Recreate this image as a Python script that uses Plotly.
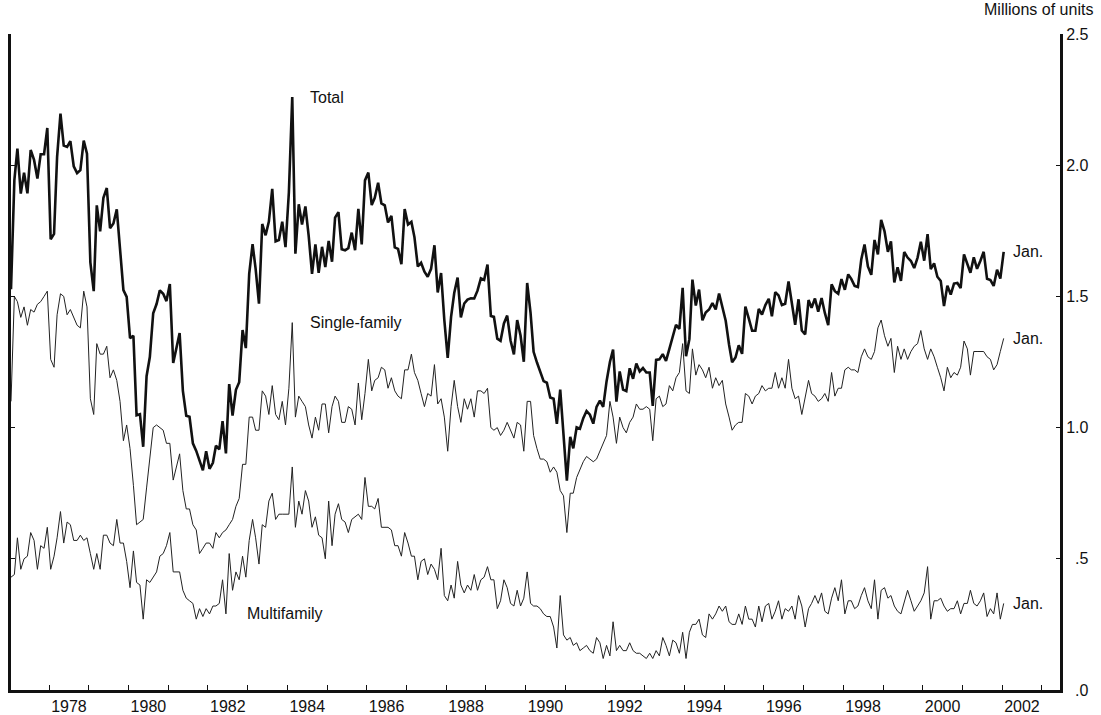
import pandas as pd
import plotly.graph_objects as go

# Monthly, Jan 1977 - Jan 2002, millions of units (SAAR)
total = [
    1.527, 1.943, 2.063, 1.892, 1.971, 1.893, 2.058, 2.020, 1.949, 2.042, 2.042, 2.142,
    1.718, 1.738, 2.032, 2.197, 2.075, 2.070, 2.092, 1.996, 1.970, 1.981, 2.094, 2.044,
    1.630, 1.520, 1.847, 1.748, 1.876, 1.913, 1.760, 1.778, 1.832, 1.681, 1.524, 1.498,
    1.341, 1.350, 1.047, 1.051, 0.927, 1.196, 1.269, 1.436, 1.471, 1.523, 1.510, 1.482,
    1.547, 1.246, 1.306, 1.360, 1.140, 1.045, 1.041, 0.940, 0.911, 0.873, 0.837, 0.910,
    0.843, 0.866, 0.931, 0.917, 1.025, 0.902, 1.166, 1.046, 1.144, 1.173, 1.372, 1.303,
    1.586, 1.699, 1.606, 1.472, 1.776, 1.733, 1.785, 1.910, 1.710, 1.715, 1.785, 1.688,
    1.897, 2.260, 1.663, 1.851, 1.774, 1.843, 1.732, 1.586, 1.698, 1.590, 1.689, 1.612,
    1.711, 1.632, 1.800, 1.821, 1.680, 1.676, 1.684, 1.743, 1.676, 1.834, 1.698, 1.942,
    1.972, 1.848, 1.876, 1.933, 1.854, 1.847, 1.782, 1.807, 1.687, 1.681, 1.623, 1.833,
    1.774, 1.784, 1.726, 1.614, 1.628, 1.594, 1.575, 1.605, 1.695, 1.515, 1.589, 1.409,
    1.266, 1.422, 1.513, 1.572, 1.420, 1.473, 1.488, 1.493, 1.492, 1.522, 1.569, 1.563,
    1.621, 1.425, 1.422, 1.339, 1.331, 1.397, 1.427, 1.332, 1.279, 1.410, 1.351, 1.251,
    1.551, 1.437, 1.289, 1.248, 1.212, 1.177, 1.171, 1.115, 1.110, 1.014, 1.145, 0.969,
    0.798, 0.965, 0.921, 1.001, 0.996, 1.036, 1.063, 1.049, 1.015, 1.079, 1.103, 1.079,
    1.176, 1.250, 1.297, 1.099, 1.214, 1.145, 1.139, 1.226, 1.186, 1.244, 1.214, 1.227,
    1.210, 1.210, 1.083, 1.258, 1.260, 1.280, 1.254, 1.300, 1.343, 1.392, 1.376, 1.533,
    1.272, 1.337, 1.564, 1.465, 1.526, 1.409, 1.439, 1.450, 1.474, 1.450, 1.511, 1.455,
    1.407, 1.316, 1.249, 1.267, 1.314, 1.281, 1.461, 1.416, 1.369, 1.369, 1.452, 1.431,
    1.467, 1.491, 1.424, 1.516, 1.504, 1.467, 1.472, 1.557, 1.475, 1.392, 1.489, 1.370,
    1.355, 1.486, 1.457, 1.492, 1.442, 1.494, 1.437, 1.390, 1.546, 1.520, 1.510, 1.566,
    1.525, 1.584, 1.567, 1.540, 1.536, 1.641, 1.698, 1.614, 1.582, 1.715, 1.660, 1.792,
    1.748, 1.670, 1.710, 1.553, 1.611, 1.559, 1.669, 1.648, 1.635, 1.608, 1.648, 1.708,
    1.636, 1.737, 1.604, 1.626, 1.575, 1.559, 1.463, 1.541, 1.507, 1.549, 1.551, 1.532,
    1.660, 1.625, 1.590, 1.649, 1.605, 1.636, 1.670, 1.567, 1.562, 1.540, 1.602, 1.568,
    1.670,
]

single_family = [
    1.10, 1.50, 1.48, 1.42, 1.46, 1.39, 1.45, 1.44, 1.47, 1.48, 1.50, 1.52,
    1.26, 1.23, 1.43, 1.51, 1.50, 1.43, 1.45, 1.42, 1.39, 1.38, 1.52, 1.46,
    1.11, 1.05, 1.32, 1.28, 1.28, 1.31, 1.19, 1.22, 1.18, 1.10, 0.95, 1.01,
    0.92, 0.78, 0.63, 0.64, 0.65, 0.77, 0.88, 1.00, 1.01, 1.00, 0.99, 0.94,
    0.94, 0.80, 0.85, 0.90, 0.76, 0.69, 0.69, 0.63, 0.61, 0.52, 0.54, 0.56,
    0.56, 0.54, 0.60, 0.58, 0.60, 0.61, 0.63, 0.65, 0.70, 0.73, 0.86, 0.86,
    1.04, 1.04, 0.99, 0.99, 1.14, 1.12, 1.05, 1.16, 1.05, 1.03, 1.10, 1.01,
    1.15, 1.40, 1.04, 1.12, 1.10, 1.08, 1.01, 0.96, 1.04, 0.99, 1.09, 1.09,
    0.98, 1.08, 1.12, 1.10, 1.02, 1.02, 1.08, 1.07, 1.01, 1.17, 1.03, 1.13,
    1.26, 1.14, 1.18, 1.19, 1.23, 1.22, 1.15, 1.19, 1.14, 1.12, 1.11, 1.22,
    1.22, 1.28, 1.21, 1.18, 1.13, 1.08, 1.13, 1.12, 1.24, 1.09, 1.11, 1.04,
    0.91, 1.08, 1.18, 1.08, 1.02, 1.11, 1.07, 1.11, 1.04, 1.14, 1.14, 1.13,
    1.15, 1.00, 0.99, 1.00, 0.97, 0.99, 1.02, 0.99, 0.96, 1.02, 1.01, 0.91,
    1.10, 1.10, 0.97, 0.92, 0.88, 0.88, 0.87, 0.83, 0.85, 0.83, 0.76, 0.74,
    0.60, 0.75, 0.75, 0.81, 0.84, 0.87, 0.89, 0.88, 0.87, 0.88, 0.91, 0.94,
    0.97, 1.10, 1.04, 0.94, 1.04, 1.00, 0.98, 1.02, 1.04, 1.09, 1.07, 1.07,
    1.08, 1.07, 0.95, 1.11, 1.12, 1.08, 1.09, 1.16, 1.14, 1.19, 1.21, 1.32,
    1.14, 1.13, 1.30, 1.20, 1.24, 1.22, 1.19, 1.23, 1.15, 1.19, 1.16, 1.18,
    1.09, 1.04, 0.99, 1.01, 1.02, 1.02, 1.13, 1.12, 1.09, 1.12, 1.13, 1.16,
    1.14, 1.15, 1.15, 1.21, 1.15, 1.19, 1.15, 1.26, 1.15, 1.11, 1.12, 1.05,
    1.12, 1.18, 1.13, 1.12, 1.10, 1.11, 1.13, 1.10, 1.21, 1.12, 1.15, 1.15,
    1.22, 1.23, 1.22, 1.22, 1.21, 1.27, 1.30, 1.27, 1.26, 1.29, 1.38, 1.41,
    1.35, 1.31, 1.34, 1.21, 1.31, 1.26, 1.30, 1.26, 1.29, 1.31, 1.32, 1.37,
    1.30, 1.26, 1.30, 1.27, 1.23, 1.19, 1.14, 1.23, 1.19, 1.21, 1.20, 1.23,
    1.33, 1.30, 1.20, 1.29, 1.29, 1.29, 1.29, 1.27, 1.26, 1.22, 1.24, 1.29,
    1.34,
]

multifamily = [
    0.43, 0.44, 0.58, 0.46, 0.50, 0.51, 0.60, 0.57, 0.46, 0.55, 0.54, 0.62,
    0.46, 0.51, 0.58, 0.68, 0.56, 0.64, 0.63, 0.57, 0.57, 0.59, 0.57, 0.58,
    0.52, 0.46, 0.52, 0.46, 0.59, 0.59, 0.56, 0.55, 0.65, 0.56, 0.56, 0.49,
    0.39, 0.53, 0.41, 0.40, 0.27, 0.42, 0.41, 0.43, 0.45, 0.51, 0.52, 0.55,
    0.60, 0.45, 0.45, 0.45, 0.38, 0.35, 0.34, 0.33, 0.27, 0.31, 0.28, 0.31,
    0.29, 0.32, 0.32, 0.33, 0.42, 0.29, 0.52, 0.38, 0.45, 0.42, 0.51, 0.43,
    0.57, 0.65, 0.58, 0.48, 0.63, 0.62, 0.72, 0.75, 0.65, 0.67, 0.67, 0.67,
    0.67, 0.85, 0.62, 0.72, 0.67, 0.76, 0.72, 0.62, 0.66, 0.59, 0.58, 0.50,
    0.72, 0.55, 0.67, 0.71, 0.65, 0.64, 0.60, 0.65, 0.66, 0.67, 0.65, 0.81,
    0.70, 0.70, 0.69, 0.73, 0.62, 0.62, 0.62, 0.61, 0.55, 0.55, 0.51, 0.60,
    0.56, 0.51, 0.51, 0.42, 0.49, 0.50, 0.44, 0.48, 0.46, 0.42, 0.54, 0.36,
    0.34, 0.40, 0.35, 0.49, 0.40, 0.37, 0.40, 0.38, 0.44, 0.38, 0.42, 0.43,
    0.47, 0.42, 0.42, 0.31, 0.34, 0.42, 0.39, 0.33, 0.32, 0.38, 0.32, 0.35,
    0.45, 0.33, 0.32, 0.32, 0.31, 0.29, 0.28, 0.28, 0.24, 0.16, 0.36, 0.21,
    0.19, 0.20, 0.17, 0.18, 0.15, 0.16, 0.17, 0.15, 0.14, 0.20, 0.18, 0.12,
    0.17, 0.13, 0.26, 0.15, 0.17, 0.15, 0.15, 0.18, 0.15, 0.14, 0.14, 0.13,
    0.12, 0.14, 0.12, 0.15, 0.13, 0.20, 0.17, 0.13, 0.19, 0.18, 0.14, 0.22,
    0.12, 0.22, 0.25, 0.25, 0.27, 0.21, 0.20, 0.29, 0.27, 0.29, 0.32, 0.30,
    0.32, 0.26, 0.25, 0.25, 0.29, 0.25, 0.32, 0.27, 0.27, 0.24, 0.32, 0.26,
    0.32, 0.33, 0.27, 0.30, 0.34, 0.27, 0.31, 0.30, 0.32, 0.27, 0.36, 0.32,
    0.24, 0.31, 0.33, 0.36, 0.33, 0.37, 0.30, 0.29, 0.35, 0.39, 0.34, 0.42,
    0.29, 0.34, 0.34, 0.31, 0.32, 0.36, 0.39, 0.34, 0.31, 0.42, 0.27, 0.38,
    0.39, 0.35, 0.36, 0.32, 0.30, 0.29, 0.34, 0.38, 0.34, 0.30, 0.32, 0.34,
    0.37, 0.47, 0.27, 0.34, 0.34, 0.35, 0.32, 0.30, 0.31, 0.31, 0.34, 0.29,
    0.33, 0.33, 0.38, 0.33, 0.32, 0.34, 0.37, 0.28, 0.31, 0.29, 0.37, 0.27,
    0.33,
]

dates = pd.date_range("1977-01-01", periods=len(total), freq="MS") + pd.Timedelta(days=14)

year_labels = [str(y) for y in range(1978, 2003, 2)]
year_label_pos = [f"{y}-07-02" for y in range(1978, 2003, 2)]
y_tickvals = [0, 0.5, 1.0, 1.5, 2.0, 2.5]
y_ticktext = ["\u2007.0", "\u2007.5", "1.0", "1.5", "2.0", "2.5"]

FONT = "Liberation Sans, Arial, Helvetica, sans-serif"
INK = "#111111"

fig = go.Figure()
fig.add_trace(go.Scatter(x=dates, y=multifamily, mode="lines",
                         line=dict(color="#222222", width=1), name="Multifamily"))
fig.add_trace(go.Scatter(x=dates, y=single_family, mode="lines",
                         line=dict(color="#222222", width=1), name="Single-family"))
fig.add_trace(go.Scatter(x=dates, y=total, mode="lines",
                         line=dict(color=INK, width=2.6), name="Total"))

annos = [
    dict(x="1984-07-10", y=2.257, text="Total", xanchor="left", yanchor="middle"),
    dict(x="1984-07-10", y=1.399, text="Single-family", xanchor="left", yanchor="middle"),
    dict(x="1982-12-08", y=0.293, text="Multifamily", xanchor="left", yanchor="middle"),
]
for series in (total, single_family, multifamily):
    annos.append(dict(x=dates[-1], y=series[-1], text="Jan.", xanchor="left",
                      yanchor="middle", xshift=7))
for a in annos:
    fig.add_annotation(showarrow=False, xref="x", yref="y",
                       font=dict(family=FONT, size=16, color=INK), **a)

fig.add_annotation(text="Millions of units", xref="paper", yref="paper",
                   x=1.0334, y=1.0366, xanchor="right", yanchor="middle",
                   showarrow=False, font=dict(family=FONT, size=16, color=INK))
fig.add_annotation(text="(Seasonally adjusted annual rate)", xref="paper", yref="paper",
                   x=0.5, y=1.0549, xanchor="center", yanchor="bottom",
                   showarrow=False, font=dict(family=FONT, size=24, color=INK))

fig.update_layout(
    width=1101, height=715,
    margin=dict(l=11, r=41, t=34, b=25, autoexpand=False),
    paper_bgcolor="white", plot_bgcolor="white",
    showlegend=False,
    font=dict(family=FONT, size=16, color=INK),
    xaxis=dict(
        type="date",
        range=["1977-01-15", "2003-06-17"],
        tickvals=year_label_pos, ticktext=year_labels,
        ticks="", showgrid=False, zeroline=False, automargin=False,
        showline=True, linewidth=3, linecolor=INK,
        tickfont=dict(family=FONT, size=16, color=INK),
        minor=dict(ticks="inside", ticklen=5, tickwidth=1, tickcolor=INK,
                   dtick="M12", tick0="1977-01-01", showgrid=False),
    ),
    yaxis=dict(
        side="right",
        range=[0, 2.5],
        tickvals=y_tickvals, ticktext=y_ticktext,
        ticks="inside", ticklen=4, tickwidth=1, tickcolor=INK,
        showgrid=False, zeroline=False, automargin=False,
        showline=True, linewidth=3, linecolor=INK, mirror="ticks",
        tickfont=dict(family=FONT, size=16, color=INK),
    ),
)

fig.write_html(
    "out.html",
    config={"displayModeBar": False},
    post_script="document.body.style.margin='0';document.body.style.overflow='hidden';",
)
